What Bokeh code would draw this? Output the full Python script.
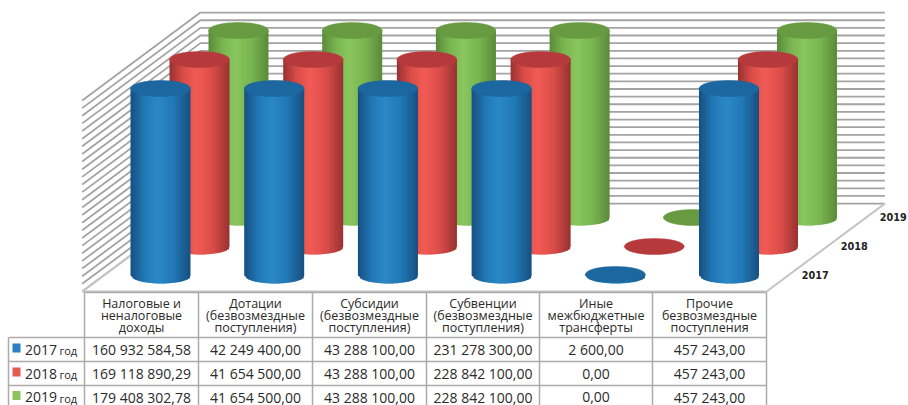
import math
from bokeh.plotting import figure
from bokeh.models import Range1d
from bokeh.core.properties import value
from bokeh.embed import file_html
from bokeh.resources import INLINE

# ---- data -----------------------------------------------------------------
categories = [
    ["Налоговые и", "неналоговые", "доходы"],
    ["Дотации", "(безвозмездные", "поступления)"],
    ["Субсидии", "(безвозмездные", "поступления)"],
    ["Субвенции", "(безвозмездные", "поступления)"],
    ["Иные", "межбюджетные", "трансферты"],
    ["Прочие", "безвозмездные", "поступления"],
]
years = ["2017", "2018", "2019"]
values_2017 = [160932584.58, 42249400.00, 43288100.00, 231278300.00, 2600.00, 457243.00]
values_2018 = [169118890.29, 41654500.00, 43288100.00, 228842100.00, 0.00, 457243.00]
values_2019 = [179408302.78, 41654500.00, 43288100.00, 228842100.00, 0.00, 457243.00]
series = [values_2017, values_2018, values_2019]

# value axis of the chart is cut off, so every large bar stops at the same height
VALUE_CAP = 457243.0
AXIS_TOP = 467000.0
AXIS_STEP = 18680.0

# ---- styling and layout ----------------------------------------------------
W, H = 908, 405
SLOT_PX = 113.7
KV = VALUE_CAP / 187.0          # value units per pixel
X0_PX, Y0_PX = 160.0, 275.0     # pixel of first category, first series, value 0
DEPTH_X = 39.0 / SLOT_PX        # per series step
DEPTH_Y = 29.0 * KV
RX = 30.0 / SLOT_PX
RY = 8.0 * KV
S_FRONT, S_BACK = -0.55, 2.48
CAT_L, CAT_R = -0.5, 5.52

side_dark = ["#174f80", "#963231", "#5a8a3a"]
side_mid = ["#2078b4", "#d94c48", "#78b450"]
side_light = ["#2b88c6", "#f25b55", "#8ac65e"]
top_col = ["#1c679f", "#b63a3c", "#689a42"]
swatch = ["#2a82c0", "#e25a52", "#8cc35c"]
GRID = "#a3a3a3"
TXT = "#2a2a2a"
SANS = "Open Sans"


def hexrgb(c):
    return tuple(int(c[i:i + 2], 16) for i in (1, 3, 5))


def mix(a, b, t):
    ra, rb = hexrgb(a), hexrgb(b)
    return "#%02x%02x%02x" % tuple(round(ra[i] + (rb[i] - ra[i]) * t) for i in range(3))


def shade(s, t):
    a = abs(t + 0.1) / 1.1 if t > -0.1 else abs(t + 0.1) / 0.9
    if a < 0.5:
        return mix(side_light[s], side_mid[s], a / 0.5)
    return mix(side_mid[s], side_dark[s], (a - 0.5) / 0.5)


def proj(i, s, v=0.0):
    return i + s * DEPTH_X, v + s * DEPTH_Y


def fmt(v):
    return f"{v:,.2f}".replace(",", " ").replace(".", ",")


p = figure(
    width=W, height=H, output_backend="svg", toolbar_location=None,
    x_range=Range1d((0 - X0_PX) / SLOT_PX, (W - X0_PX) / SLOT_PX),
    y_range=Range1d(-(H - Y0_PX) * KV, Y0_PX * KV),
    x_axis_location=None, y_axis_location=None, min_border=0,
    outline_line_color=None, background_fill_color="white",
)
p.grid.visible = False
p.extra_x_ranges["px"] = Range1d(0, W)
p.extra_y_ranges["px"] = Range1d(H, 0)

# ---- walls and floor --------------------------------------------------------
ticks = []
t = 0.0
while t <= AXIS_TOP + 1:
    ticks.append(t)
    t += AXIS_STEP
xs, ys = [], []
for t in ticks[1:] + [0.0]:
    a = proj(CAT_L, S_FRONT, t)
    b = proj(CAT_L, S_BACK, t)
    c = proj(CAT_R, S_BACK, t)
    xs.append([a[0], b[0], c[0]])
    ys.append([a[1], b[1], c[1]])
p.multi_line(xs, ys, line_color=GRID, line_width=1.8)
a = proj(CAT_L, S_FRONT); b = proj(CAT_R, S_FRONT); c = proj(CAT_R, S_BACK)
p.line([a[0], b[0], c[0]], [a[1], b[1], c[1]], line_color="#c4c4c4", line_width=2)
a2 = proj(CAT_L, S_BACK)
p.line([a[0], a2[0]], [a[1], a2[1]], line_color="#c4c4c4", line_width=2)

# ---- cylinders --------------------------------------------------------------
N = 30
OVER = 1.5 / SLOT_PX
for s in (2, 1, 0):
    vals = series[s]
    sx, sy, sc = [], [], []
    ex, ey = [], []
    for i, v in enumerate(vals):
        h = min(v, VALUE_CAP)
        cx, by = proj(i, s)
        ex.append(cx)
        ey.append(by + h)
        if h <= 0:
            continue
        for k in range(N):
            t0 = -1 + 2 * k / N
            t1 = -1 + 2 * (k + 1) / N
            y0 = by - RY * math.sqrt(max(0, 1 - t0 * t0))
            y1 = by - RY * math.sqrt(max(0, 1 - t1 * t1))
            x0, x1 = cx + RX * t0, cx + RX * t1
            if k < N - 1:
                x1 += OVER
            sx.append([x0, x1, x1, x0])
            sy.append([y0, y1, by + h, by + h])
            sc.append(shade(s, (t0 + t1) / 2))
    p.patches(sx, sy, fill_color=sc, line_color=None)
    p.ellipse(ex, ey, width=2 * RX, height=2 * RY, fill_color=top_col[s],
              line_color=top_col[s], line_width=0.5)

# ---- depth labels ------------------------------------------------------------
lab_x = [proj(CAT_R + 0.12, s)[0] for s in range(3)]
lab_y = [proj(0, s)[1] + 0.5 * KV for s in range(3)]
p.text(lab_x, lab_y, text=years, text_font=value("DejaVu Sans"), text_font_style="bold",
       text_font_size="9.7px", text_color="#222222", text_align="left", text_baseline="middle")

# ---- data table -------------------------------------------------------------
col_x = [84, 198, 312, 426, 539, 652, 766]
row_y = [292, 337, 361, 385, 405]
LEG_L = 8
tx = dict(x_range_name="px", y_range_name="px")
xs = [[x, x] for x in col_x] + [[LEG_L, LEG_L]]
ys = [[row_y[0], row_y[-1]] for _ in col_x] + [[row_y[1], row_y[-1]]]
xs += [[col_x[0], col_x[-1]], [LEG_L, col_x[-1]], [LEG_L, col_x[-1]], [LEG_L, col_x[-1]]]
ys += [[row_y[0]] * 2, [row_y[1]] * 2, [row_y[2]] * 2, [row_y[3]] * 2]
p.multi_line(xs, ys, line_color="#ababab", line_width=1.5, **tx)

# headers
hx, hy, ht = [], [], []
for j, lines in enumerate(categories):
    for n, line in enumerate(lines):
        hx.append((col_x[j] + col_x[j + 1]) / 2)
        hy.append(303 + n * 12.2)
        ht.append(line)
p.text(hx, hy, text=ht, text_font=value(SANS), text_font_size="12.5px", text_color=TXT,
       text_align="center", text_baseline="middle", **tx)

# cells
cx, cy, ct = [], [], []
row_mid = [349, 373, 396.5]
for r, vals in enumerate(series):
    for j, v in enumerate(vals):
        cx.append((col_x[j] + col_x[j + 1]) / 2)
        cy.append(row_mid[r])
        ct.append(fmt(v))
p.text(cx, cy, text=ct, text_font=value(SANS), text_font_size="14px", text_color=TXT,
       text_align="center", text_baseline="middle", **tx)

# legend column
p.quad(left=[12] * 3, right=[20] * 3, top=[m - 6 for m in row_mid], bottom=[m + 3 for m in row_mid],
       fill_color=swatch, line_color=None, **tx)
p.text([24.5] * 3, row_mid, text=years, text_font=value(SANS), text_font_size="14px",
       text_color=TXT, text_align="left", text_baseline="middle", **tx)
p.text([59] * 3, [m + 1 for m in row_mid], text=["год"] * 3, text_font=value(SANS), text_font_size="11px",
       text_color=TXT, text_align="left", text_baseline="middle", **tx)

open("out.html", "w").write(file_html(p, INLINE))
